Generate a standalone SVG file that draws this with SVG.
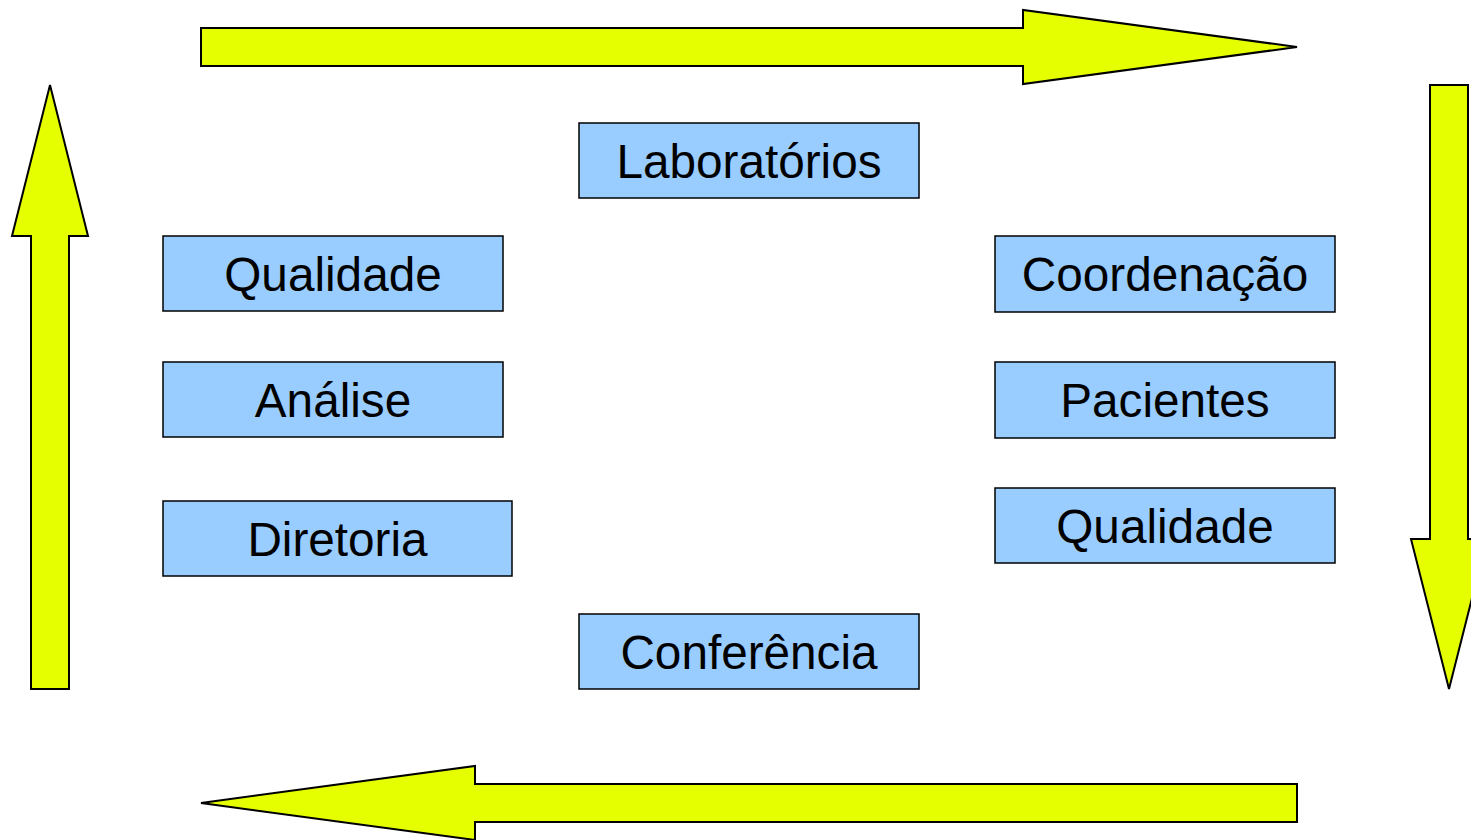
<svg xmlns="http://www.w3.org/2000/svg" width="1471" height="840" viewBox="0 0 1471 840">
<style>
.arrow{fill:#e6ff00;stroke:#000;stroke-width:2;stroke-linejoin:miter}
.box rect{fill:#99ccff;stroke:#000;stroke-width:1.5}
.box text{font-family:"Liberation Sans",Arial,sans-serif;font-size:47.7px;fill:#000;text-anchor:middle}
</style>
<rect width="1471" height="840" fill="#fff"/>
<g id="connectors">
<polygon class="arrow" points="201,28 1023,28 1023,10 1297,47 1023,84 1023,66 201,66"/>
<polygon class="arrow" points="1430,85 1468,85 1468,539 1487,539 1449,689 1411,539 1430,539"/>
<polygon class="arrow" points="1297,784 1297,822 475,822 475,840 201,803 475,766 475,784"/>
<polygon class="arrow" points="31,689 31,236 12,236 50,85 88,236 69,236 69,689"/>
</g>
<g id="n-laboratorios" class="box"><rect x="579" y="123" width="340" height="75"/><text x="749" y="177.5">Laboratórios</text></g>
<g id="n-qualidade-left" class="box"><rect x="163" y="236" width="340" height="75"/><text x="333" y="291">Qualidade</text></g>
<g id="n-analise" class="box"><rect x="163" y="362" width="340" height="75"/><text x="333" y="417">Análise</text></g>
<g id="n-diretoria" class="box"><rect x="163" y="501" width="349" height="75"/><text x="337.5" y="556">Diretoria</text></g>
<g id="n-coordenacao" class="box"><rect x="995" y="236" width="340" height="76"/><text x="1165" y="291">Coordenação</text></g>
<g id="n-pacientes" class="box"><rect x="995" y="362" width="340" height="76"/><text x="1165" y="417">Pacientes</text></g>
<g id="n-qualidade-right" class="box"><rect x="995" y="488" width="340" height="75"/><text x="1165" y="543">Qualidade</text></g>
<g id="n-conferencia" class="box"><rect x="579" y="614" width="340" height="75"/><text x="749" y="669">Conferência</text></g>
</svg>
